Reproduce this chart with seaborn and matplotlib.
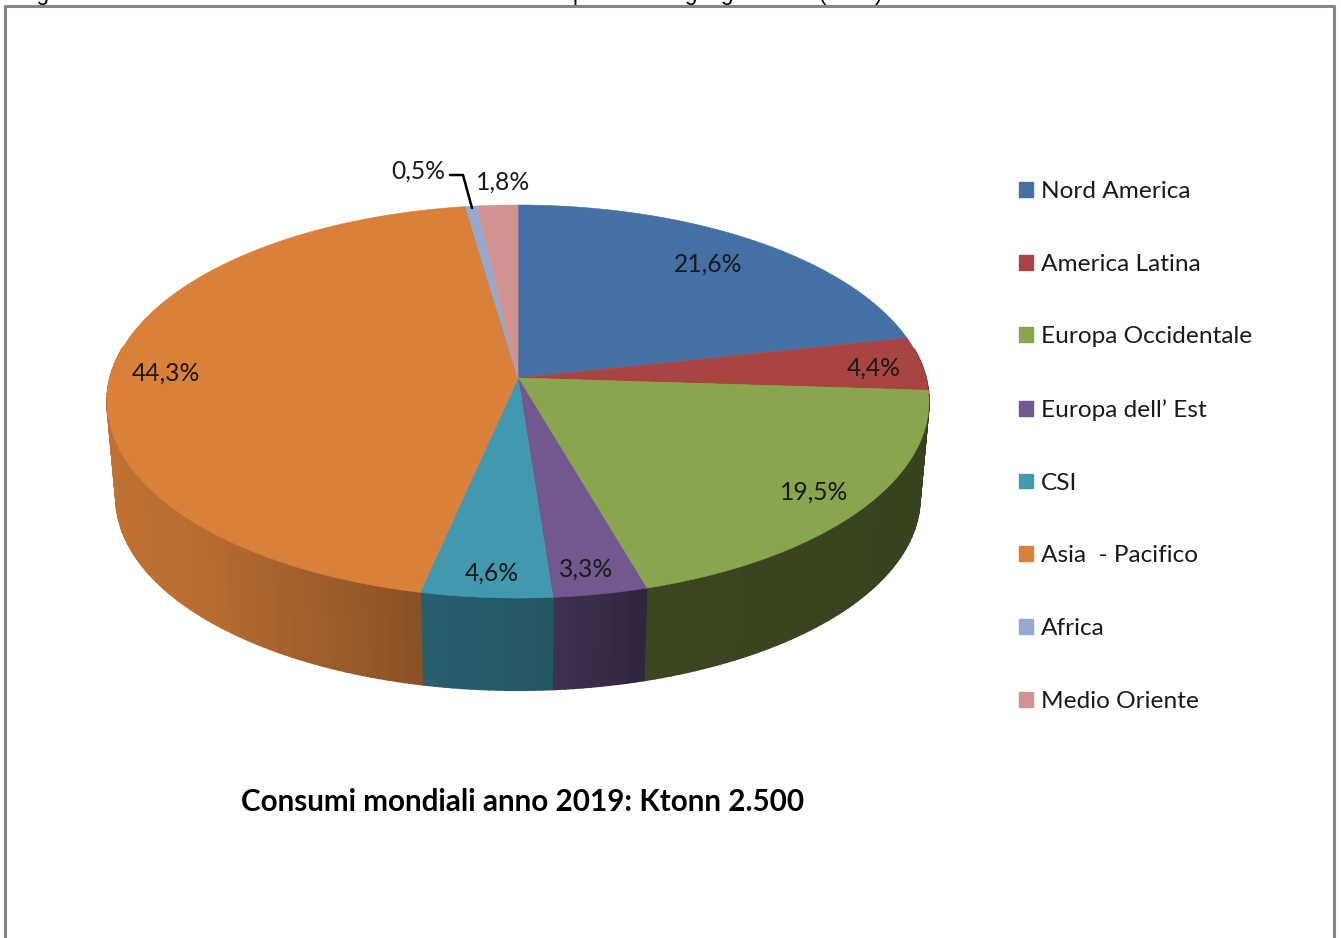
import numpy as np
import matplotlib
matplotlib.use('Agg')
import matplotlib.pyplot as plt
from matplotlib.patches import Polygon, Patch
import seaborn as sns

# Data
regions = ['Nord America', 'America Latina', 'Europa Occidentale', "Europa dell\u2019 Est",
           'CSI', 'Asia  - Pacifico', 'Africa', 'Medio Oriente']
shares = [21.6, 4.4, 19.5, 3.3, 4.6, 44.3, 0.5, 1.8]
share_labels = ['21,6%', '4,4%', '19,5%', '3,3%', '4,6%', '44,3%', '0,5%', '1,8%']
palette = ['#4470A6', '#A84543', '#89A54E', '#71588F', '#4198AF', '#D9803A', '#93A9CF', '#D19392']
title = 'Consumi mondiali anno 2019: Ktonn 2.500'

sns.set_theme(style='white')
plt.rcParams['font.family'] = ['Lato', 'DejaVu Sans']
colors = sns.color_palette(palette)

fig = plt.figure(figsize=(13.41, 9.38), dpi=100)
ax = fig.add_axes([0, 0, 1, 1])
ax.set_xlim(0, 1341)
ax.set_ylim(938, 0)
ax.axis('off')

# Pie geometry in pixels, with a bit of perspective
CX, CY = 518, 378
RX, RY, K = 408, 193.7, 0.1196
DEPTH, BOTTOM_SCALE = 97, 0.978


def project(theta):
    u, v = np.sin(theta), np.cos(theta)
    w = 1 + K * v
    return CX + RX * u / w, CY - RY * v / w


def project_bottom(theta):
    x, y = project(theta)
    return CX + BOTTOM_SCALE * (x - CX), CY + DEPTH + BOTTOM_SCALE * (y - CY)


def side_shade(x):
    return np.interp(x, [116, 200, 421, 553, 645, 920],
                     [0.88, 0.85, 0.63, 0.56, 0.43, 0.40])


edges = np.cumsum([0] + shares) / sum(shares) * 2 * np.pi

# Outer wall first, the top face then hides what is left of it
for i, color in enumerate(colors):
    t0, t1 = edges[i], edges[i + 1]
    steps = np.append(np.arange(t0, t1, 0.02), t1)
    for a, b in zip(steps[:-1], steps[1:]):
        # back of the pie never shows
        if np.cos(a) > 0.15 and np.cos(b) > 0.15:
            continue
        xa, ya = project(a)
        xb, yb = project(b)
        xc, yc = project_bottom(b)
        xd, yd = project_bottom(a)
        shade = side_shade((xa + xb) / 2)
        c = tuple(np.array(color) * shade)
        ax.add_patch(Polygon([(xa, ya), (xb, yb), (xc, yc), (xd, yd)], closed=True,
                             facecolor=c, edgecolor=c, linewidth=1.2, zorder=2))

# Top face
for i, color in enumerate(colors):
    th = np.linspace(edges[i], edges[i + 1], 120)
    xs, ys = project(th)
    pts = [(CX, CY)] + list(zip(xs, ys))
    ax.add_patch(Polygon(pts, closed=True, facecolor=color, edgecolor=color,
                         linewidth=0.4, zorder=3))

# Percent labels, placed by hand like in the original
label_x = [708, 874, 814, 586, 492, 166, 418, 503]
label_y = [264, 368, 492, 569, 573, 373, 171, 182]
for x, y, s in zip(label_x, label_y, share_labels):
    ax.text(x, y, s, ha='center', va='center', fontsize=17.7, color='#1a1a1a', zorder=5)

# Leader for the Africa label
ax.plot([450, 463, 472], [175, 175, 208], color='black', lw=1.8, zorder=5)

# Legend
handles = [Patch(facecolor=c, edgecolor=c, label=r) for c, r in zip(colors, regions)]
ax.legend(handles=handles, loc='upper left', bbox_to_anchor=(1019 / 1341, 1 - 181 / 938),
          frameon=False, fontsize=17.6, labelspacing=2.115, handlelength=0.56, handleheight=0.56,
          handletextpad=0.33, borderpad=0, borderaxespad=0, labelcolor='#1a1a1a')

ax.text(523, 802, title, ha='center', va='center', fontsize=21.3, fontweight='bold', color='black')

# Caption above the chart is cut by the picture edge, only descenders show
for x, word in zip([18, 573, 684, 819], ['Figura', 'per', 'geografiche', '(2019)']):
    ax.text(x, 0, word, ha='left', va='baseline', fontsize=16,
            family='Liberation Sans', color='black', clip_on=False)

# Chart frame, runs off the bottom of the picture
ax.plot([5, 5, 1334, 1334], [945, 6, 6, 945], color='#868686', lw=2.2, zorder=1)

fig.savefig('out.png', dpi=100)
